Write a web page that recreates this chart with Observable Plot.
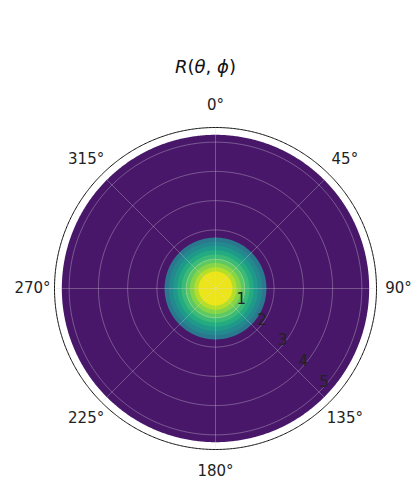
<!DOCTYPE html>
<html>
<head>
<meta charset="utf-8">
<script src="https://cdn.jsdelivr.net/npm/d3@7"></script>
<script src="https://cdn.jsdelivr.net/npm/@observablehq/plot@0.6"></script>
<style>
  html, body { margin: 0; padding: 0; background: white; }
  #title { box-sizing: border-box; height: 92px; padding-top: 56px; text-align: center;
           font-family: "DejaVu Sans", sans-serif; font-size: 18px; line-height: 22px; color: #111; width: 411px; }
  #chart svg { display: block; overflow: visible; }
</style>
</head>
<body>
<div id="title"><i>R</i>(<i>θ</i>, <i>ϕ</i>)</div>
<div id="chart"></div>
<script>
// angular ticks (degrees, clockwise from top)
const thetaTicks = [0, 45, 90, 135, 180, 225, 270, 315];
const thetaLabels = ["0°", "45°", "90°", "135°", "180°", "225°", "270°", "315°"];
// radial ticks
const rTicks = [1, 2, 3, 4, 5];
const rTickLabels = ["1", "2", "3", "4", "5"];
const rMax = 5.5;
const rLabelAngle = 135;
const thetaLabelRadius = 6.25;
// filled contour bands: outer radius of each band and its value
const bandRadii = [5.25, 1.74, 1.595, 1.45, 1.305, 1.16, 1.015, 0.87, 0.725, 0.58];
const bandValues = [0.06, 0.40, 0.47, 0.54, 0.61, 0.68, 0.75, 0.82, 0.89, 0.97];

const K = 10; // degrees of arc per radial unit
const lon = (t) => 180 - t;
const lat = (r) => 90 - r * K;
const circle = (r) => d3.geoCircle().center([0, 90]).radius(r * K).precision(0.5)();

const rings = bandRadii.map((r, i) => ({r, value: bandValues[i]}));

const plot = Plot.plot({
  width: 411,
  height: 390,
  marginLeft: 54,
  marginRight: 35,
  marginTop: 35,
  marginBottom: 33,
  projection: {type: "azimuthal-equidistant", rotate: [0, -90], domain: circle(rMax), clip: false},
  color: {type: "linear", scheme: "viridis", domain: [0, 1]},
  style: {fontFamily: "DejaVu Sans", fontSize: "15px", background: "white", color: "#222", overflow: "visible"},
  marks: [
    Plot.geo(rings, {geometry: (d) => circle(d.r), fill: (d) => d.value, stroke: "none"}),
    Plot.geo(rTicks, {geometry: (d) => circle(d), fill: "none", stroke: "#e8e8e8", strokeOpacity: 0.4, strokeWidth: 0.8}),
    Plot.link(thetaTicks, {
      x1: (d) => lon(d), y1: () => 90,
      x2: (d) => lon(d), y2: () => lat(rMax),
      stroke: "#d8d8d8", strokeOpacity: 0.4, strokeWidth: 0.8
    }),
    Plot.geo([rMax], {geometry: (d) => circle(d), fill: "none", stroke: "#111", strokeWidth: 1}),
    Plot.text(thetaTicks, {
      x: (d) => lon(d), y: () => lat(thetaLabelRadius),
      text: (d, i) => thetaLabels[i], fontSize: 15, fill: "#222", clip: false
    }),
    Plot.text(rTicks, {
      x: () => lon(rLabelAngle), y: (d) => lat(d),
      text: (d, i) => rTickLabels[i], dx: 5, dy: -10, fontSize: 15, fill: "#222"
    })
  ]
});
document.getElementById("chart").appendChild(plot);
</script>
</body>
</html>
